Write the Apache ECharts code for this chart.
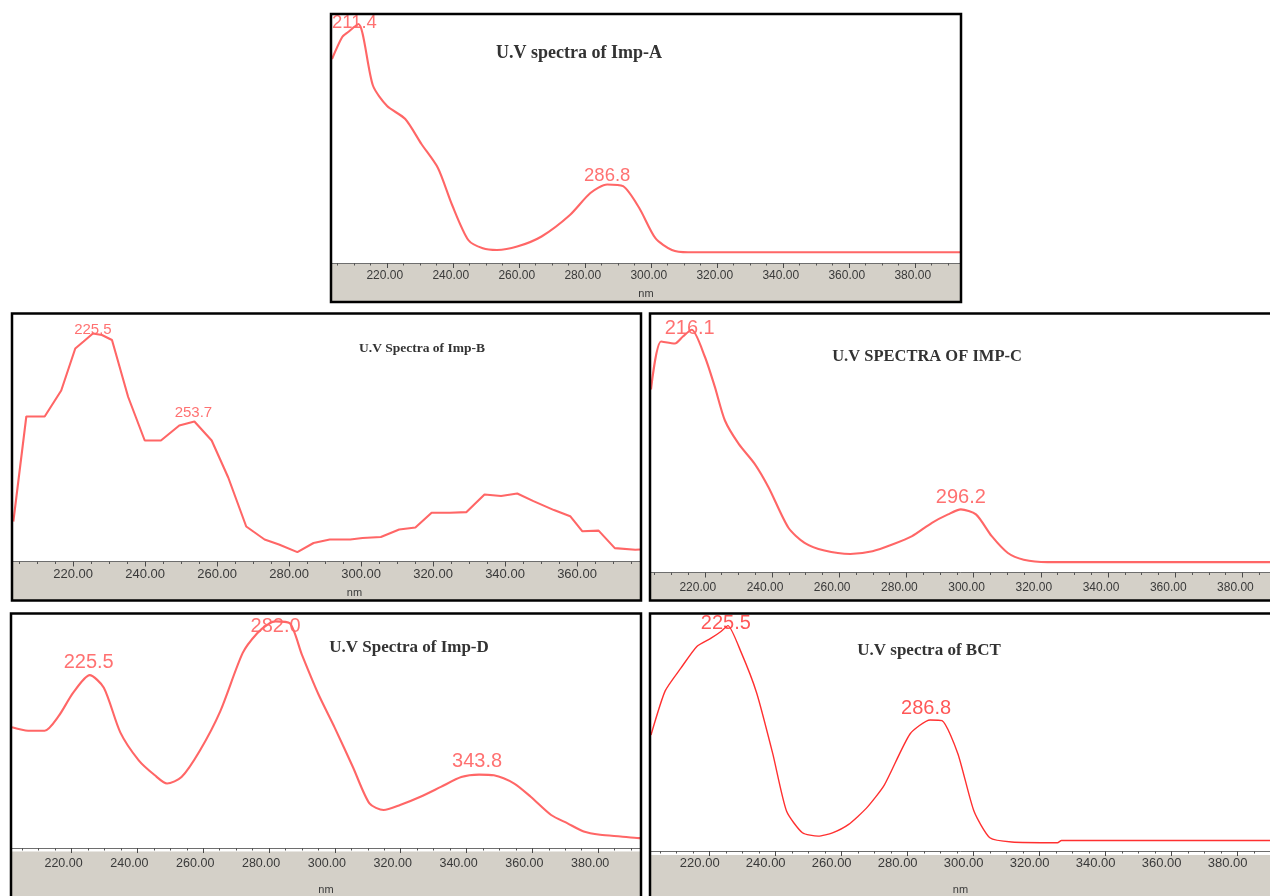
<!DOCTYPE html>
<html>
<head>
<meta charset="utf-8">
<script src="https://cdn.jsdelivr.net/npm/echarts@6/dist/echarts.min.js"></script>
<style>
  html, body { margin: 0; padding: 0; background: #ffffff; }
  #chart { width: 1270px; height: 896px; }
</style>
</head>
<body>
<div id="chart"></div>
<script>
// UV absorption spectra: wavelength (nm) against relative absorbance.
const impA_nm  = [203.4, 206.5, 208.3, 211.4, 215.8, 220.1, 225.6, 230.5, 235.5, 239.8, 244.7, 249.1, 253.4, 259.5, 266.9, 275.5, 281.7, 286.8, 291.6, 296.5, 301.4, 306.4, 311.3, 330.0, 360.0, 393.7];
const impA_abs = [204, 226, 231, 239, 177.5, 157, 144, 119, 95, 58, 23, 14.7, 13, 16.4, 26.5, 48, 70, 78.5, 76.8, 55, 24.8, 13, 10.7, 10.7, 10.7, 10.7];
const impA_peaks = [211.4, 286.8];

const impB_nm  = [203.4, 207.0, 212.1, 216.7, 220.6, 222.9, 225.5, 228.0, 230.8, 235.3, 239.9, 244.4, 249.5, 253.7, 258.5, 263.1, 268.1, 273.2, 277.2, 282.3, 286.8, 291.3, 297.0, 300.4, 305.5, 310.6, 315.1, 319.6, 324.7, 329.3, 334.3, 338.9, 343.4, 347.9, 353.6, 358.1, 361.5, 366.0, 370.5, 376.2, 377.5];
const impB_abs = [40, 145, 145, 171, 213, 220, 228, 226.5, 221.5, 164.5, 121, 121, 136, 140, 121, 84, 35, 22, 17, 9.4, 18.5, 22, 22, 23.5, 24.5, 32, 34, 48.7, 48.7, 49.4, 67, 65.5, 68, 60.4, 51.4, 45.3, 30.2, 30.9, 13.4, 11.8, 12];
const impB_peaks = [225.5, 253.7];

const impC_nm  = [204.0, 207.0, 211.1, 213.5, 216.1, 220.0, 223.0, 226.0, 230.1, 234.9, 239.0, 244.9, 249.7, 255.6, 263.3, 269.9, 275.8, 281.7, 287.6, 292.4, 296.2, 300.7, 305.4, 310.2, 314.9, 322.0, 350.0, 388.2];
const impC_abs = [183, 231, 229, 236, 242.7, 216, 185.6, 152, 128.6, 108.4, 85, 44.7, 29.6, 21.9, 18.5, 21.2, 27.9, 36.3, 49.7, 58.1, 63.1, 58.1, 36.3, 19.5, 12.8, 10.4, 10.4, 10.4];
const impC_peaks = [216.1, 296.2];

const impD_nm  = [201.9, 206.8, 211.8, 216.1, 220.5, 225.5, 229.8, 234.8, 240.4, 245.3, 249.0, 253.4, 259.0, 265.2, 272.0, 276.4, 280.1, 282.0, 286.3, 290.0, 295.0, 299.9, 305.5, 310.5, 314.8, 319.8, 326.0, 332.2, 338.4, 343.8, 348.3, 354.5, 359.5, 365.7, 370.7, 375.6, 380.6, 386.8, 392.4, 392.7];
const impD_abs = [122.5, 119, 119, 134, 157.7, 175.5, 162.7, 117.4, 89, 73.8, 65.4, 72, 99, 139, 198, 218, 228, 230, 228, 196, 156, 122.4, 82, 45.3, 38.5, 43.6, 52, 62, 72, 74.5, 73.8, 65.4, 52, 33.5, 25, 16.7, 13.4, 11.7, 10, 10];
const impD_peaks = [225.5, 282.0, 343.8];

const bct_nm  = [202.2, 206.5, 211.3, 216.1, 220.4, 223.4, 225.5, 229.4, 234.2, 239.1, 243.3, 248.1, 252.9, 257.2, 262.0, 267.5, 272.9, 280.7, 286.8, 290.4, 295.2, 300.1, 304.9, 311.5, 325.4, 326.6, 389.8];
const bct_abs = [118, 162.8, 186.2, 208, 216.4, 223.2, 229.2, 203, 161, 99, 40.3, 18.5, 15.1, 18.5, 26.8, 43.6, 67, 119, 133.2, 132.6, 99, 40.3, 13.4, 9.1, 8.4, 10.7, 10.7];
const bct_peaks = [225.5, 286.8];

const titles = ['U.V spectra of Imp-A', 'U.V Spectra of Imp-B', 'U.V SPECTRA OF IMP-C', 'U.V Spectra of Imp-D', 'U.V spectra of BCT'];
const majorTicks = [220, 240, 260, 280, 300, 320, 340, 360, 380];
const axisName = 'nm';

// Layout of each spectrum panel (pixels).
const panels = [
  { nm: impA_nm, abs: impA_abs, peaks: impA_peaks, title: titles[0],
    grid: [332, 15, 628, 248], xRange: [203.4, 393.7], yMax: 248,
    frame: [331, 14, 630, 288], band: [332, 263, 628, 39],
    titleAt: [579, 53], titleFont: 18,
    tickFont: 12, tickMargin: 7, tickShift: 2, showName: true, nameGap: 25, nameShift: 0,
    lineColor: '#ff6666', lineWidth: 2.1, smooth: 0.25,
    peakFont: 18.5, peakColor: '#ff4d4d', peakOffset: [[-4, -1], [0, -9]] },
  { nm: impB_nm, abs: impB_abs, peaks: impB_peaks, title: titles[1],
    grid: [13, 315, 627, 246.5], xRange: [203.3, 377.5], yMax: 246.5,
    frame: [12, 313.5, 629, 287], band: [13, 561.5, 627, 39],
    titleAt: [422, 349], titleFont: 13.5,
    tickFont: 13, tickMargin: 6, tickShift: 0, showName: true, nameGap: 26, nameShift: 28,
    lineColor: '#ff6666', lineWidth: 2.1, smooth: 0,
    peakFont: 15, peakColor: '#ff4d4d', peakOffset: [[0, -4], [-1, -9]] },
  { nm: impC_nm, abs: impC_abs, peaks: impC_peaks, title: titles[2],
    grid: [651, 314, 619, 258.5], xRange: [204.0, 388.2], yMax: 258.5,
    frame: [650, 313.5, 625, 287], band: [651, 572.5, 619, 28],
    titleAt: [927, 357], titleFont: 16.5,
    tickFont: 12, tickMargin: 9, tickShift: 7, showName: false, nameGap: 30, nameShift: 0,
    lineColor: '#ff6666', lineWidth: 2.1, smooth: 0.25,
    peakFont: 20, peakColor: '#ff4d4d', peakOffset: [[-2, -1], [0, -12]] },
  { nm: impD_nm, abs: impD_abs, peaks: impD_peaks, title: titles[3],
    grid: [12, 614, 628, 237.5], xRange: [201.9, 392.7], yMax: 237.5,
    frame: [11, 613.5, 630, 292], band: [12, 851.5, 628, 45],
    titleAt: [409, 648], titleFont: 17,
    tickFont: 12.5, tickMargin: 9, tickShift: 8, showName: true, nameGap: 36, nameShift: 0,
    lineColor: '#ff6666', lineWidth: 2.1, smooth: 0.25,
    peakFont: 20, peakColor: '#ff4d4d', peakOffset: [[-1, -12.5], [0, 5], [-2, -13]] },
  { nm: bct_nm, abs: bct_abs, peaks: bct_peaks, title: titles[4],
    grid: [651, 614, 619, 241], xRange: [202.2, 389.8], yMax: 241,
    frame: [650, 613.5, 625, 292], band: [651, 855, 619, 41],
    titleAt: [929, 651], titleFont: 17,
    tickFont: 13, tickMargin: 5.5, tickShift: 10, showName: true, nameGap: 33, nameShift: 0,
    lineColor: '#ff3030', lineWidth: 1.4, smooth: 0.2,
    peakFont: 20, peakColor: '#ff2d2d', peakOffset: [[-2, -2], [-4, -12]] }
];

function minorTicksIn(min, max) {
  const out = [];
  for (let v = Math.ceil(min / 5) * 5; v <= max; v += 5) {
    if (v % 20 !== 0) out.push(v);
  }
  return out;
}

const grid = [], xAxis = [], yAxis = [], series = [], graphic = [];

panels.forEach((p, i) => {
  const [gl, gt, gw, gh] = p.grid;
  grid.push({ left: gl, top: gt, width: gw, height: gh, containLabel: false });

  const majors = majorTicks.filter(v => v >= p.xRange[0] && v <= p.xRange[1]);
  // labelled major ticks
  xAxis.push({
    type: 'value', gridIndex: i, position: 'bottom',
    min: p.xRange[0], max: p.xRange[1],
    axisLine: { show: true, lineStyle: { color: '#6e6e6e', width: 1 } },
    axisTick: { show: true, customValues: majors, length: 5, lineStyle: { color: '#4a4a4a', width: 1 } },
    axisLabel: {
      customValues: majors, margin: p.tickMargin,
      formatter: v => v.toFixed(2),
      fontFamily: '"Liberation Sans", Arial, sans-serif', fontSize: p.tickFont, color: '#3a3a3a',
      padding: [0, p.tickShift * 2, 0, 0]
    },
    splitLine: { show: false },
    name: p.showName ? axisName : '', nameLocation: 'middle', nameGap: p.nameGap,
    nameTextStyle: { fontFamily: '"Liberation Sans", Arial, sans-serif', fontSize: 11, color: '#3a3a3a',
                     padding: [0, 0, 0, p.nameShift * 2] }
  });
  // minor ticks every 5 nm
  xAxis.push({
    type: 'value', gridIndex: i, position: 'bottom',
    min: p.xRange[0], max: p.xRange[1],
    axisLine: { show: false },
    axisTick: { show: true, customValues: minorTicksIn(p.xRange[0], p.xRange[1]), length: 2.5,
                lineStyle: { color: '#555555', width: 1 } },
    axisLabel: { show: false },
    splitLine: { show: false }
  });
  yAxis.push({ type: 'value', gridIndex: i, min: 0, max: p.yMax, show: false });

  const points = p.nm.map((w, k) => [w, p.abs[k]]);
  series.push({
    type: 'line', xAxisIndex: i * 2, yAxisIndex: i,
    data: points, showSymbol: false, smooth: p.smooth, silent: true,
    lineStyle: { color: p.lineColor, width: p.lineWidth }
  });
  series.push({
    type: 'scatter', xAxisIndex: i * 2, yAxisIndex: i, silent: true,
    symbolSize: 1, itemStyle: { color: 'rgba(0,0,0,0)' },
    data: p.peaks.map((w, k) => ({
      value: [w, p.abs[p.nm.indexOf(w)]],
      label: { offset: p.peakOffset[k] }
    })),
    label: {
      show: true, position: 'inside',
      formatter: d => d.value[0].toFixed(1),
      fontFamily: '"Liberation Sans", Arial, sans-serif', fontSize: p.peakFont, color: p.peakColor
    }
  });

  graphic.push({
    type: 'rect', silent: true, z: -10,
    shape: { x: p.band[0], y: p.band[1], width: p.band[2], height: p.band[3] },
    style: { fill: '#d4d0c8' }
  });
  graphic.push({
    type: 'rect', silent: true, z: 100,
    shape: { x: p.frame[0], y: p.frame[1], width: p.frame[2], height: p.frame[3] },
    style: { fill: 'transparent', stroke: '#000000', lineWidth: 2.5 }
  });
  graphic.push({
    type: 'text', silent: true, z: 50,
    x: p.titleAt[0], y: p.titleAt[1],
    style: {
      text: p.title, font: 'bold ' + p.titleFont + 'px "Liberation Serif", "Times New Roman", serif',
      fill: '#333333', align: 'center', verticalAlign: 'middle',
      textAlign: 'center', textVerticalAlign: 'middle'
    }
  });
});

const chart = echarts.init(document.getElementById('chart'), null, { renderer: 'canvas' });
chart.setOption({
  backgroundColor: '#ffffff',
  animation: false,
  grid, xAxis, yAxis, series, graphic
});
</script>
</body>
</html>
